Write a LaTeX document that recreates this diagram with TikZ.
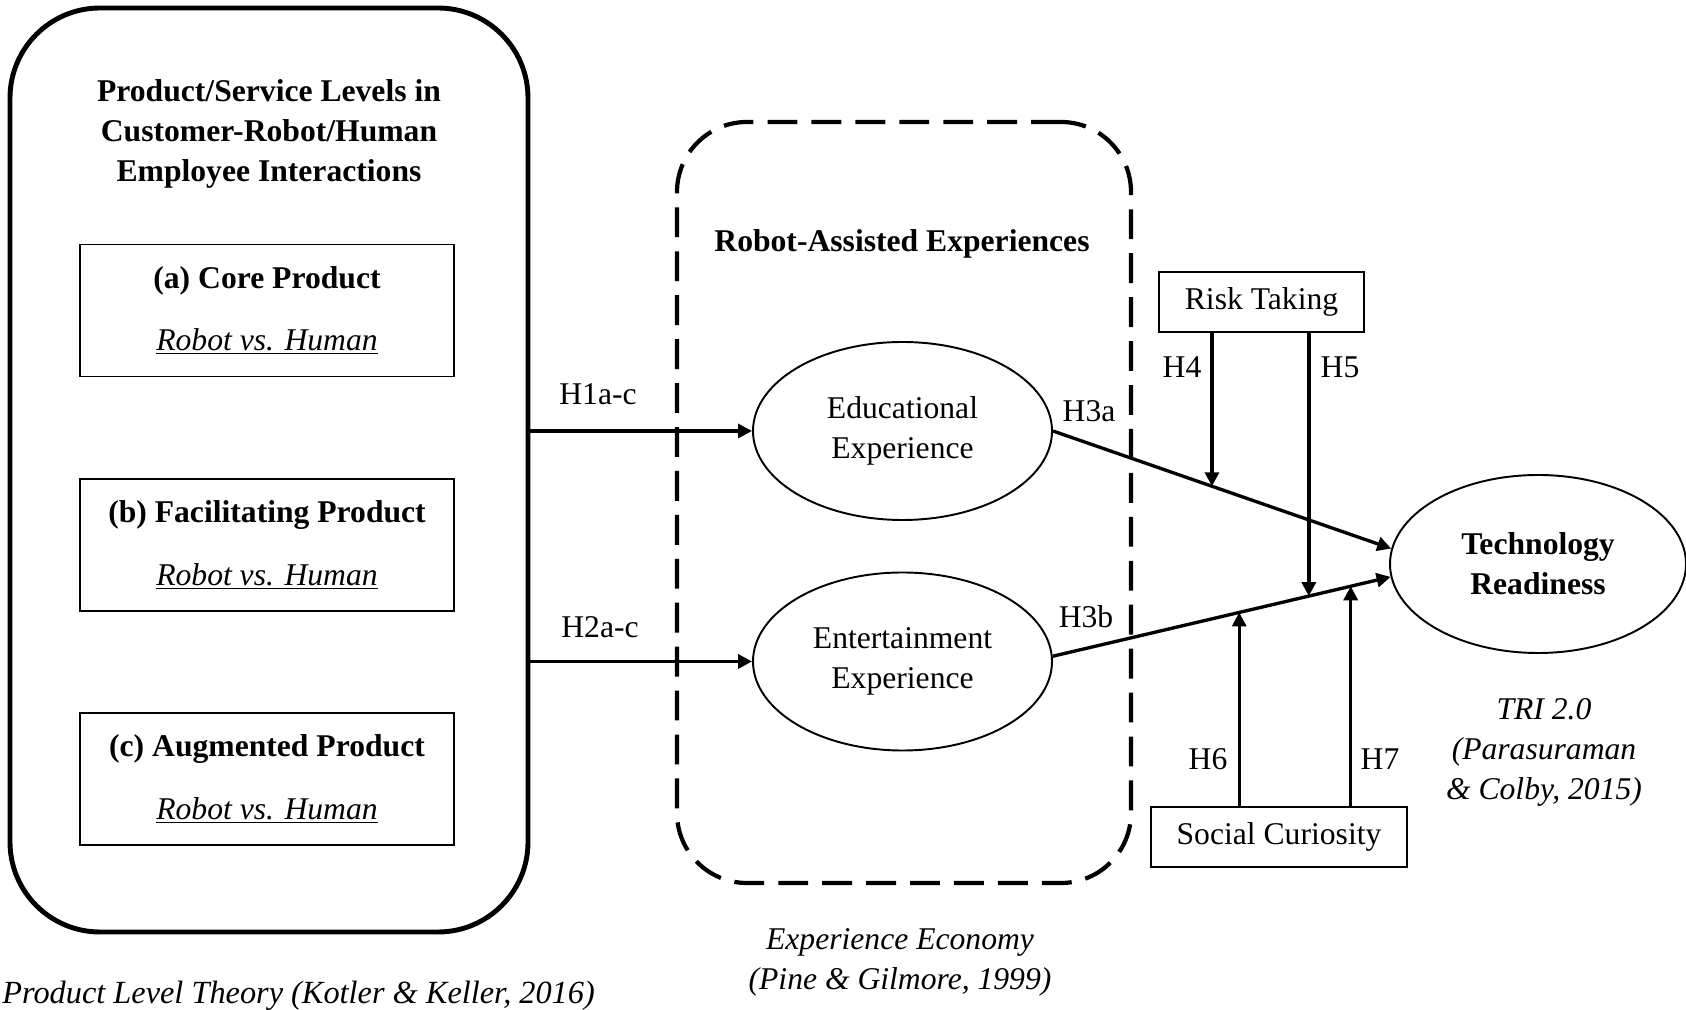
\documentclass[tikz,border=0pt]{standalone}
\usepackage{fontspec}
\setmainfont{Liberation Serif}
\usepackage{tikz}
\usetikzlibrary{shapes.geometric}
\usetikzlibrary{arrows.meta}
\usetikzlibrary{positioning}

\begin{document}
\begin{tikzpicture}[
    every node/.style={font=\fontsize{18}{22.8}\selectfont, align=center},
    head/.style={font=\fontsize{18}{22.8}\selectfont\bfseries},
    theory/.style={font=\fontsize{18}{22.8}\selectfont\itshape},
    levelbox/.style={rectangle, draw, line width=2.8pt, rounded corners=1.8cm, minimum width=10.36cm, minimum height=18.48cm},
    prodbox/.style={rectangle, draw, line width=0.9pt, minimum width=7.48cm, minimum height=2.64cm, inner sep=0pt},
    expbox/.style={rectangle, draw, line width=2.4pt, dash pattern=on 17pt off 8pt, rounded corners=1.4cm, minimum width=9.08cm, minimum height=15.22cm},
    latent/.style={ellipse, draw, line width=1.1pt, minimum width=5.98cm, minimum height=3.56cm, inner sep=0pt},
    moderator/.style={rectangle, draw, line width=0.9pt, minimum height=1.2cm, inner sep=0pt},
    arr/.style={line width=1.9pt, -{Triangle[length=0.28cm, width=0.28cm]}},
  ]

  \useasboundingbox (0,0) rectangle (33.72,20.18);

  % product levels
  \node[levelbox] (levels) at (5.38, 10.78) {};
  \node[head] (levtitle) at (5.38, 17.50) {Product/Service Levels in\\Customer-Robot/Human\\Employee Interactions};
  \node[prodbox] (core) at (5.34, 13.97) {\textbf{(a) Core Product}\\[13pt]\textit{\underline{Robot vs. Human}}};
  \node[prodbox] (facil) at (5.34, 9.28) {\textbf{(b) Facilitating Product}\\[13pt]\textit{\underline{Robot vs. Human}}};
  \node[prodbox] (augm) at (5.34, 4.60) {\textbf{(c) Augmented Product}\\[13pt]\textit{\underline{Robot vs. Human}}};

  % experiences
  \node[expbox] (expframe) at (18.08, 10.13) {};
  \node[head] (exptitle) at (18.04, 15.30) {Robot-Assisted Experiences};
  \node[latent] (edu) at (18.05, 11.56) {Educational\\Experience};
  \node[latent] (ent) at (18.05, 6.95) {Entertainment\\Experience};

  % outcome and moderators
  \node[latent, minimum width=5.92cm, font=\fontsize{18}{22.8}\selectfont\bfseries] (tr) at (30.76, 8.90) {Technology\\Readiness};
  \node[moderator, minimum width=4.10cm] (risk) at (25.23, 14.14) {Risk Taking};
  \node[moderator, minimum width=5.12cm] (social) at (25.58, 3.44) {Social Curiosity};

  \draw[arr] (levels.east |- edu.west) -- (edu.west);
  \draw[arr] (levels.east |- ent.west) -- (ent.west);
  \draw[arr] (edu.east) -- coordinate[pos=0.47] (m4) (tr.174);
  \draw[arr] (ent.2) -- coordinate[pos=0.552] (m6) coordinate[pos=0.758] (m5) coordinate[pos=0.882] (m7) (tr.185);
  \draw[arr] (risk.south -| m4) -- (m4);
  \draw[arr] (risk.south -| m5) -- (m5);
  \draw[arr] (social.north -| m6) -- (m6);
  \draw[arr] (social.north -| m7) -- (m7);

  \node (h1) at (11.96, 12.30) {H1a-c};
  \node (h2) at (12.00, 7.64) {H2a-c};
  \node (h3a) at (21.78, 11.96) {H3a};
  \node (h3b) at (21.72, 7.84) {H3b};
  \node (h4) at (23.64, 12.84) {H4};
  \node (h5) at (26.80, 12.84) {H5};
  \node (h6) at (24.16, 5.00) {H6};
  \node (h7) at (27.60, 5.00) {H7};

  % theory sources
  \node[theory] (tri) at (30.88, 5.13) {TRI 2.0\\(Parasuraman\\\& Colby, 2015)};
  \node[theory] (pine) at (18.00, 0.94) {Experience Economy\\(Pine \& Gilmore, 1999)};
  \node[theory, anchor=east, font=\fontsize{18.4}{22.8}\selectfont\itshape] (kotler) at (12.02, 0.27) {Product Level Theory (Kotler \& Keller, 2016)};

\end{tikzpicture}
\end{document}
